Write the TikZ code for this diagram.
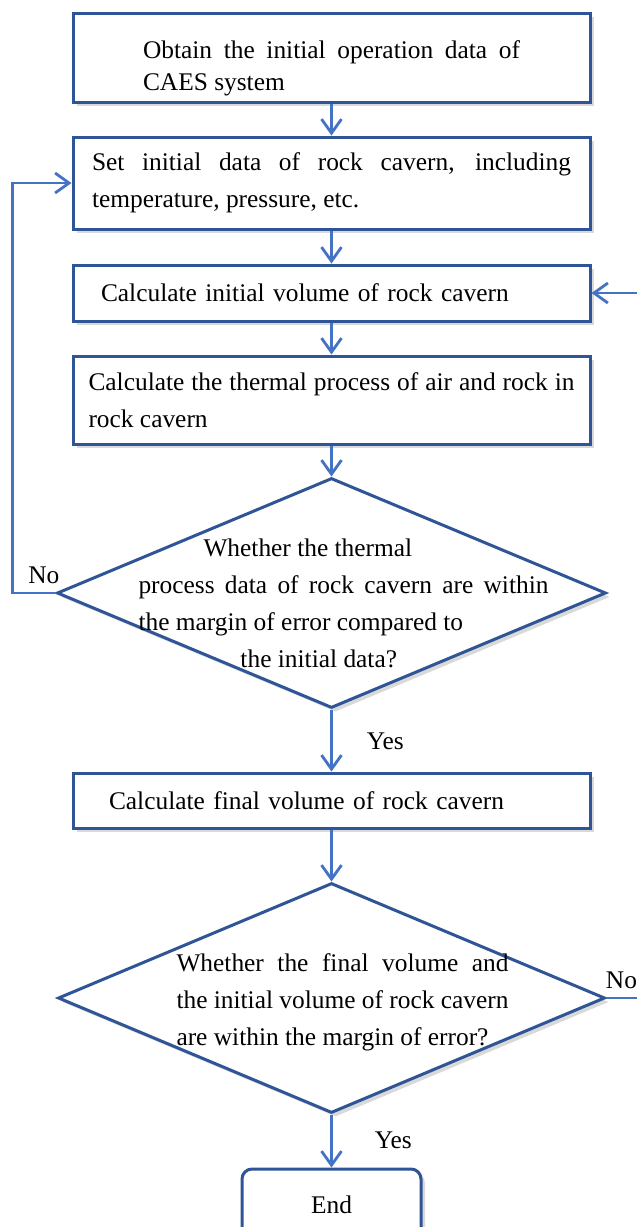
\documentclass[tikz,border=0pt]{standalone}
\usepackage{fontspec}
\setmainfont{Liberation Serif}
\usetikzlibrary{arrows.meta, shapes.geometric, shadows}
\definecolor{boxblue}{RGB}{47,85,151}
\definecolor{arrblue}{RGB}{68,114,196}

\begin{document}
\begin{tikzpicture}[
  x=0.5pt, y=-0.5pt,
  font=\fontsize{12.7}{18.5}\selectfont,
  box/.style={rectangle, draw=boxblue, line width=1.5pt, fill=white,
              drop shadow={opacity=0.3, shadow xshift=2pt, shadow yshift=-2pt},
              minimum width=258.5pt, inner ysep=0pt, align=justify},
  decision/.style={diamond, draw=boxblue, line width=1.5pt, fill=white,
                   drop shadow={opacity=0.3, shadow xshift=2pt, shadow yshift=-2pt},
                   inner sep=0pt, minimum height=115pt},
  qtext/.style={inner sep=0pt, align=justify},
  stopbox/.style={rectangle, rounded corners=5pt, draw=boxblue, line width=1.5pt, fill=white,
                  drop shadow={opacity=0.3, shadow xshift=2pt, shadow yshift=-2pt},
                  minimum width=89.5pt, minimum height=36pt},
  lbl/.style={inner sep=0pt},
  arr/.style={-{Straight Barb[length=7pt, width=10pt]}, line width=1.4pt, draw=arrblue}
]
\path[use as bounding box] (0,0) rectangle (637,1227);
\clip (0,0) rectangle (637,1227);
% main column of process steps
\node[box, text width=188.5pt, inner xsep=35pt, minimum height=44.5pt,
      font=\fontsize{12.7}{16}\selectfont] (obtain) at (331.5,57.5)
  {\rule{0pt}{20pt}Obtain the initial operation data of\linebreak CAES system};
\node[box, text width=239.5pt, inner xsep=9.5pt, minimum height=46pt] (setdata) at (331.5,183)
  {Set initial data of rock cavern, including\linebreak temperature, pressure, etc.};
\node[box, text width=230.5pt, inner xsep=14pt, minimum height=28pt, align=left] (initvol) at (331.5,293)
  {Calculate initial volume of rock cavern};
\node[box, text width=243pt, inner xsep=7.75pt, minimum height=44pt] (thermal) at (331.5,400)
  {Calculate the thermal process of air and rock in\linebreak rock cavern};
\node[decision, minimum width=274.5pt] (check1) at (331.5,593) {};
\node[qtext, text width=205pt] (check1txt) at ([xshift=6pt, yshift=-5pt]check1.center)
  {\hspace*{32.5pt}Whether the thermal\\
   process data of rock cavern are within\linebreak
   the margin of error compared to\\
   \hspace*{51pt}the initial data?};
\node[box, text width=222.5pt, inner xsep=18pt, minimum height=27.5pt, align=left] (finalvol) at (331.5,800.5)
  {Calculate final volume of rock cavern};
\node[decision, minimum width=273.5pt] (check2) at (331.5,998) {};
\node[qtext, text width=166pt] (check2txt) at ([xshift=5.5pt, yshift=-2.25pt]check2.center)
  {Whether the final volume and\linebreak
   the initial volume of rock cavern\linebreak
   are within the margin of error?};
\node[stopbox] (stop) at (331.5,1205) {End};
% connectors
\draw[arr] (obtain.south) -- (setdata.north);
\draw[arr] (setdata.south) -- (initvol.north);
\draw[arr] (initvol.south) -- (thermal.north);
\draw[arr] (thermal.south) -- (check1.north);
\draw[arr] (check1.south) -- (finalvol.north)
      node[lbl, pos=0.52, right=17pt] {Yes};
\draw[arr] (finalvol.south) -- (check2.north);
\draw[arr] (check2.south) -- (stop.north)
      node[lbl, pos=0.48, right=21pt] {Yes};
% feedback loops
\draw[arr] (check1.west) -- ++(-43,0) node[lbl, pos=0.27, above=4pt] {No} |- (setdata.west);
\draw[arr] (check2.east) -- ++(60,0) node[lbl, pos=0.25, above=4pt] {No} |- (initvol.east);
\end{tikzpicture}
\end{document}
